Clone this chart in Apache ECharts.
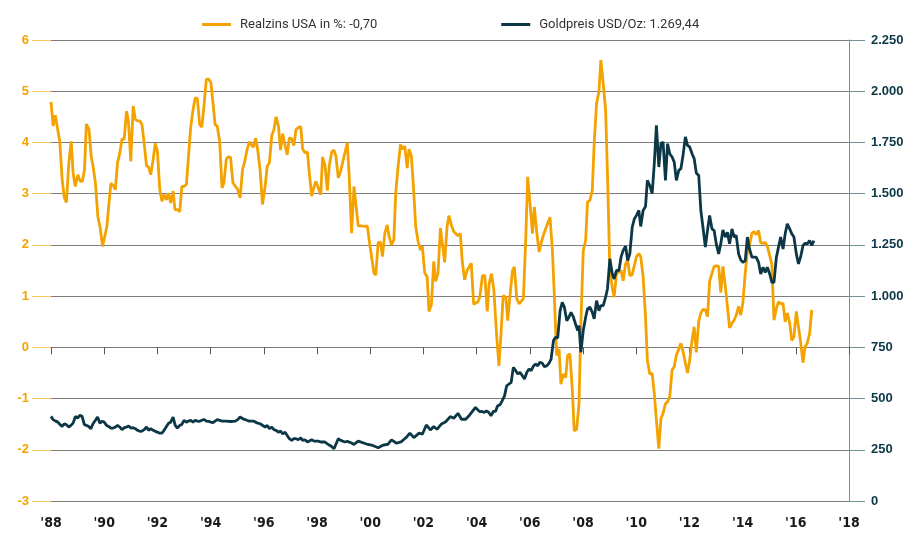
<!DOCTYPE html>
<html>
<head>
<meta charset="utf-8">
<script src="https://cdn.jsdelivr.net/npm/echarts@6/dist/echarts.min.js"></script>
<style>
html,body{margin:0;padding:0;background:#fff;}
#chart{width:909px;height:533px;}
</style>
</head>
<body>
<div id="chart"></div>
<script>
// Legend / series names
var seriesNames = ['Realzins USA in %: -0,70', 'Goldpreis USD/Oz: 1.269,44'];

// X-axis tick labels (every 2 years)
var xTickYears = [1988,1990,1992,1994,1996,1998,2000,2002,2004,2006,2008,2010,2012,2014,2016,2018];

// Left axis ticks (real interest, %)
var leftTicks = [-3,-2,-1,0,1,2,3,4,5,6];
// Right axis ticks (gold price USD/oz)
var rightTicks = [0,250,500,750,1000,1250,1500,1750,2000,2250];

// Realzins USA in % : [decimal year, value]
var realzins = [
[1988.00,4.79],[1988.08,4.32],[1988.16,4.53],[1988.23,4.32],[1988.33,4.02],[1988.42,3.27],[1988.50,2.92],[1988.58,2.83],[1988.67,3.6],[1988.76,4.02],[1988.83,3.41],[1988.91,3.14],
[1989.01,3.37],[1989.10,3.24],[1989.18,3.24],[1989.26,3.47],[1989.33,4.36],[1989.43,4.25],[1989.51,3.73],[1989.58,3.54],[1989.67,3.21],[1989.76,2.56],[1989.85,2.33],[1989.94,1.97],
[1990.01,1.98],[1990.10,2.36],[1990.17,2.75],[1990.25,3.2],[1990.34,3.16],[1990.42,3.08],[1990.50,3.6],[1990.59,3.8],[1990.67,4.07],[1990.75,4.06],[1990.84,4.61],[1990.91,4.42],
[1991.00,3.63],[1991.09,4.71],[1991.17,4.45],[1991.25,4.42],[1991.34,4.42],[1991.42,4.35],[1991.50,3.99],[1991.59,3.55],[1991.67,3.52],[1991.75,3.37],[1991.84,3.67],[1991.92,3.98],
[1992.00,3.83],[1992.09,3.08],[1992.17,2.85],[1992.25,2.98],[1992.34,2.88],[1992.41,3.01],[1992.50,2.82],[1992.59,3.05],[1992.66,2.69],[1992.75,2.69],[1992.84,2.65],[1992.92,3.14],
[1993.00,3.14],[1993.09,3.18],[1993.17,3.73],[1993.25,4.29],[1993.34,4.64],[1993.42,4.87],[1993.50,4.86],[1993.59,4.35],[1993.67,4.3],[1993.75,4.71],[1993.84,5.23],[1993.92,5.24],
[1994.01,5.17],[1994.09,4.77],[1994.17,4.35],[1994.25,4.32],[1994.34,4.02],[1994.43,3.11],[1994.50,3.21],[1994.59,3.67],[1994.66,3.72],[1994.75,3.71],[1994.84,3.21],[1994.94,3.14],
[1995.02,3.08],[1995.11,2.92],[1995.20,3.47],[1995.27,3.6],[1995.36,3.83],[1995.45,4.01],[1995.52,3.96],[1995.61,3.91],[1995.69,4.08],[1995.77,3.86],[1995.86,3.47],[1995.95,2.79],
[1996.05,3.14],[1996.13,3.54],[1996.21,3.6],[1996.30,4.14],[1996.38,4.25],[1996.46,4.5],[1996.55,4.32],[1996.63,3.85],[1996.71,4.17],[1996.80,3.94],[1996.88,3.76],[1996.96,4.09],
[1997.05,4.07],[1997.13,3.94],[1997.21,4.25],[1997.30,4.29],[1997.39,4.31],[1997.46,3.87],[1997.55,3.8],[1997.64,3.81],[1997.71,3.41],[1997.80,2.95],[1997.89,3.14],[1997.96,3.24],
[1998.05,3.11],[1998.14,2.98],[1998.21,3.72],[1998.30,3.55],[1998.39,3.06],[1998.46,3.54],[1998.55,3.81],[1998.64,3.85],[1998.71,3.73],[1998.80,3.31],[1998.89,3.44],[1998.96,3.6],
[1999.05,3.8],[1999.14,3.99],[1999.21,3.34],[1999.30,2.23],[1999.39,3.14],[1999.46,3.11],[1999.55,2.37],[1999.64,2.37],[1999.71,2.36],[1999.80,2.36],[1999.89,2.37],[1999.96,2.1],
[2000.05,1.77],[2000.14,1.45],[2000.21,1.41],[2000.30,2.05],[2000.39,2.05],[2000.46,1.77],[2000.55,2.23],[2000.64,2.39],[2000.71,2.17],[2000.80,2.0],[2000.89,2.1],[2000.96,3.01],
[2001.05,3.54],[2001.14,3.96],[2001.21,3.87],[2001.30,3.93],[2001.39,3.5],[2001.46,3.87],[2001.55,3.73],[2001.64,3.01],[2001.71,2.36],[2001.80,2.07],[2001.89,1.9],[2001.96,1.97],
[2002.05,1.45],[2002.14,1.38],[2002.21,0.7],[2002.30,0.83],[2002.39,1.68],[2002.46,1.29],[2002.55,1.45],[2002.64,2.33],[2002.71,2.3],[2002.80,1.66],[2002.89,2.36],[2002.96,2.57],
[2003.05,2.39],[2003.14,2.26],[2003.21,2.28],[2003.30,2.18],[2003.39,2.22],[2003.46,1.68],[2003.55,1.32],[2003.64,1.5],[2003.71,1.48],[2003.80,1.64],[2003.89,0.84],[2003.96,0.84],
[2004.05,0.89],[2004.12,0.98],[2004.22,1.4],[2004.31,1.4],[2004.40,0.7],[2004.47,1.24],[2004.56,1.44],[2004.65,1.11],[2004.75,0.26],[2004.84,-0.36],[2004.91,0.2],
[2005.00,1.01],[2005.10,0.98],[2005.17,0.52],[2005.26,1.04],[2005.35,1.5],[2005.42,1.57],[2005.51,0.95],[2005.60,0.85],[2005.67,0.88],[2005.76,0.95],[2005.85,2.15],[2005.92,3.33],
[2006.01,2.8],[2006.10,2.22],[2006.17,2.74],[2006.26,2.25],[2006.35,1.86],[2006.42,2.02],[2006.51,2.19],[2006.60,2.32],[2006.67,2.35],[2006.76,2.54],[2006.85,1.89],[2006.92,1.04],
[2007.01,-0.16],[2007.10,-0.03],[2007.17,-0.72],[2007.26,-0.52],[2007.35,-0.59],[2007.42,-0.16],[2007.51,-0.13],[2007.60,-0.85],[2007.67,-1.63],[2007.76,-1.6],[2007.85,-1.11],[2007.92,0.46],
[2008.01,1.89],[2008.10,2.09],[2008.17,2.84],[2008.26,2.87],[2008.35,3.07],[2008.42,3.98],[2008.51,4.76],[2008.60,4.99],[2008.67,5.61],[2008.76,5.15],[2008.85,4.63],[2008.92,3.39],
[2009.01,1.5],[2009.10,1.17],[2009.17,0.98],[2009.26,1.44],[2009.35,1.47],[2009.43,1.5],[2009.51,1.3],[2009.60,1.63],[2009.68,1.7],[2009.76,1.4],[2009.85,1.42],[2009.92,1.42],
[2010.01,1.77],[2010.10,1.83],[2010.17,1.77],[2010.26,1.38],[2010.35,0.6],[2010.42,-0.25],[2010.51,-0.52],[2010.60,-0.51],[2010.68,-0.9],[2010.76,-1.42],[2010.85,-1.98],[2010.93,-1.39],
[2011.01,-1.29],[2011.10,-1.1],[2011.18,-1.06],[2011.26,-0.97],[2011.35,-0.44],[2011.43,-0.38],[2011.51,-0.15],[2011.60,-0.04],[2011.68,0.08],[2011.76,-0.08],[2011.85,-0.31],[2011.93,-0.5],
[2012.01,-0.25],[2012.10,0.14],[2012.18,0.4],[2012.26,-0.1],[2012.35,0.5],[2012.43,0.67],[2012.51,0.74],[2012.60,0.73],[2012.68,0.6],[2012.76,1.29],[2012.85,1.45],[2012.93,1.58],
[2013.01,1.59],[2013.10,1.58],[2013.18,1.07],[2013.26,1.58],[2013.35,1.19],[2013.43,0.8],[2013.51,0.38],[2013.60,0.47],[2013.68,0.53],[2013.76,0.63],[2013.85,0.8],[2013.93,0.63],
[2014.01,0.87],[2014.10,1.45],[2014.18,1.87],[2014.26,2.0],[2014.35,2.23],[2014.43,2.26],[2014.51,2.2],[2014.60,2.28],[2014.68,2.04],[2014.77,2.03],[2014.85,2.05],[2014.93,1.97],
[2015.02,1.79],[2015.10,1.61],[2015.18,0.53],[2015.27,0.76],[2015.35,0.89],[2015.43,0.85],[2015.52,0.86],[2015.60,0.5],[2015.68,0.67],[2015.77,0.47],[2015.85,0.13],[2015.93,0.21],
[2016.02,0.7],[2016.10,0.4],[2016.18,0.11],[2016.27,-0.3],[2016.35,0.01],[2016.43,0.08],[2016.52,0.27],[2016.60,0.73]
];

// Goldpreis USD/Oz : [decimal year, value]
var goldpreis = [
[1988.00,413],[1988.08,397],[1988.17,390],[1988.26,385],[1988.33,374],[1988.42,364],[1988.50,377],[1988.58,372],[1988.67,361],[1988.75,369],[1988.83,380],[1988.92,413],
[1989.00,405],[1989.08,418],[1989.17,413],[1989.25,374],[1989.33,369],[1989.42,364],[1989.50,353],[1989.58,377],[1989.67,394],[1989.75,410],[1989.84,380],[1989.92,389],
[1990.00,385],[1990.09,369],[1990.17,364],[1990.25,356],[1990.34,356],[1990.42,361],[1990.50,369],[1990.59,361],[1990.67,348],[1990.75,358],[1990.84,361],[1990.92,366],
[1991.00,356],[1991.09,358],[1991.17,353],[1991.25,345],[1991.34,340],[1991.42,341],[1991.50,348],[1991.59,361],[1991.67,345],[1991.75,353],[1991.84,345],[1991.92,340],
[1992.00,336],[1992.09,331],[1992.17,331],[1992.25,345],[1992.34,364],[1992.42,380],[1992.50,385],[1992.59,410],[1992.67,369],[1992.75,356],[1992.84,369],[1992.92,374],
[1993.00,394],[1993.09,385],[1993.17,390],[1993.25,394],[1993.34,385],[1993.42,394],[1993.50,390],[1993.59,389],[1993.67,394],[1993.75,398],[1993.84,390],[1993.92,389],
[1994.01,385],[1994.09,382],[1994.17,390],[1994.25,397],[1994.34,394],[1994.43,390],[1994.59,390],[1994.75,388],[1994.93,390],
[1995.02,397],[1995.11,410],[1995.20,402],[1995.27,397],[1995.36,394],[1995.45,390],[1995.52,382],[1995.61,390],[1995.69,385],[1995.77,380],[1995.86,377],[1995.93,377],
[1996.05,361],[1996.13,369],[1996.21,353],[1996.30,361],[1996.38,348],[1996.46,345],[1996.55,336],[1996.63,341],[1996.71,328],[1996.80,336],[1996.88,320],[1996.96,304],
[1997.05,296],[1997.13,304],[1997.21,304],[1997.30,299],[1997.39,309],[1997.46,296],[1997.55,299],[1997.64,288],[1997.71,279],[1997.80,299],[1997.89,292],[1997.96,296],
[1998.05,292],[1998.14,288],[1998.21,288],[1998.30,288],[1998.39,279],[1998.46,274],[1998.55,266],[1998.64,255],[1998.71,260],[1998.80,304],[1998.89,296],[1998.96,292],
[1999.05,288],[1999.14,291],[1999.21,296],[1999.30,283],[1999.39,276],[1999.46,279],[1999.55,292],[1999.61,285],[1999.86,278],
[2000.05,273],[2000.30,260],[2000.49,273],[2000.67,277],[2000.80,298],[2000.99,282],
[2001.18,290],[2001.36,311],[2001.49,331],[2001.64,309],[2001.84,331],[2001.96,326],
[2002.11,371],[2002.26,347],[2002.39,363],[2002.51,350],[2002.68,376],[2002.84,387],
[2003.01,412],[2003.14,404],[2003.30,428],[2003.43,399],[2003.59,399],[2003.74,420],[2003.96,457],
[2004.11,436],[2004.21,437],[2004.29,432],[2004.37,440],[2004.46,432],[2004.54,416],[2004.63,437],[2004.71,437],[2004.79,465],[2004.88,469],[2004.96,489],
[2005.05,513],[2005.13,562],[2005.22,571],[2005.30,579],[2005.38,652],[2005.47,636],[2005.55,620],[2005.63,628],[2005.72,611],[2005.80,595],[2005.89,628],[2005.97,644],
[2006.05,636],[2006.14,660],[2006.22,668],[2006.30,660],[2006.38,677],[2006.47,672],[2006.55,655],[2006.64,660],[2006.72,672],[2006.80,693],[2006.89,783],[2006.97,799],
[2007.05,796],[2007.14,929],[2007.22,970],[2007.30,946],[2007.39,880],[2007.47,897],[2007.55,921],[2007.64,897],[2007.72,864],[2007.80,832],[2007.85,856],[2007.92,726],
[2008.01,832],[2008.10,897],[2008.17,938],[2008.26,946],[2008.35,921],[2008.42,889],[2008.51,978],[2008.60,929],[2008.67,954],[2008.76,954],[2008.85,995],[2008.92,1035],
[2009.01,1182],[2009.10,1109],[2009.17,1084],[2009.26,1125],[2009.35,1125],[2009.43,1190],[2009.51,1223],[2009.60,1243],[2009.68,1174],[2009.76,1206],[2009.85,1336],[2009.93,1377],
[2010.01,1394],[2010.10,1418],[2010.17,1340],[2010.26,1418],[2010.35,1437],[2010.42,1565],[2010.51,1540],[2010.60,1500],[2010.68,1646],[2010.76,1834],[2010.85,1630],[2010.93,1744],
[2011.01,1752],[2011.10,1565],[2011.18,1744],[2011.26,1695],[2011.35,1679],[2011.43,1654],[2011.51,1565],[2011.60,1614],[2011.68,1622],[2011.76,1687],[2011.85,1777],[2011.93,1736],
[2012.01,1728],[2012.10,1695],[2012.18,1671],[2012.26,1601],[2012.35,1589],[2012.43,1418],[2012.51,1336],[2012.60,1239],[2012.68,1320],[2012.76,1394],[2012.85,1328],[2012.93,1320],
[2013.01,1255],[2013.10,1206],[2013.18,1255],[2013.26,1323],[2013.35,1288],[2013.43,1312],[2013.51,1255],[2013.60,1328],[2013.68,1288],[2013.76,1296],[2013.85,1206],[2013.93,1177],
[2014.01,1165],[2014.10,1173],[2014.18,1288],[2014.26,1230],[2014.35,1190],[2014.43,1190],[2014.51,1190],[2014.60,1165],[2014.68,1108],[2014.77,1141],[2014.85,1116],[2014.93,1141],
[2015.02,1108],[2015.10,1067],[2015.18,1067],[2015.27,1190],[2015.35,1239],[2015.43,1288],[2015.52,1230],[2015.60,1304],[2015.68,1353],[2015.77,1328],[2015.85,1304],[2015.93,1288],
[2016.02,1206],[2016.10,1157],[2016.18,1190],[2016.27,1247],[2016.35,1258],[2016.43,1255],[2016.52,1271],[2016.60,1247],[2016.68,1271]
];

var ORANGE = '#F4A200';
var TEAL = '#0C3746';

function thousands(v){ return String(v).replace(/\B(?=(\d{3})+(?!\d))/g, '.'); }

var chart = echarts.init(document.getElementById('chart'), null, {renderer:'canvas'});
chart.setOption({
  animation: false,
  backgroundColor: '#ffffff',
  textStyle: { fontFamily: 'Roboto, "Liberation Sans", sans-serif' },
  legend: {
    top: 13,
    left: 197,
    itemWidth: 29,
    itemHeight: 3,
    itemGap: 124,
    icon: 'rect',
    data: seriesNames,
    textStyle: { color: '#333', fontSize: 13, fontFamily: 'Roboto, sans-serif', padding: [0,0,0,4] }
  },
  grid: { left: 51, right: 60, top: 40, bottom: 32, containLabel: false },
  xAxis: {
    type: 'value',
    min: xTickYears[0],
    max: xTickYears[xTickYears.length-1],
    interval: 2,
    axisLine: { show: true, lineStyle: { color: '#7a7a7a', width: 1 } },
    axisTick: { show: true, length: 7, lineStyle: { color: '#555' } },
    splitLine: { show: false },
    axisLabel: {
      margin: 15,
      color: '#1a1a1a',
      fontSize: 14,
      fontWeight: 'bold',
      fontFamily: '"Liberation Sans Narrow", "DejaVu Sans Condensed", sans-serif',
      formatter: function(v){ return "'" + String(v).slice(2); }
    }
  },
  yAxis: [
    {
      type: 'value',
      min: leftTicks[0],
      max: leftTicks[leftTicks.length-1],
      interval: 1,
      position: 'left',
      axisLine: { show: false },
      axisTick: { show: true, length: 19, lineStyle: { color: '#F7C760', width: 1 } },
      splitLine: { show: true, lineStyle: { color: '#7d7d7d', width: 1 } },
      axisLabel: { margin: 22, color: ORANGE, fontSize: 13, fontWeight: 'bold', fontFamily: '"Liberation Sans", Arial, sans-serif' }
    },
    {
      type: 'value',
      min: rightTicks[0],
      max: rightTicks[rightTicks.length-1],
      interval: 250,
      position: 'right',
      axisLine: { show: true, lineStyle: { color: '#6E9296', width: 1 } },
      axisTick: { show: true, length: 16, lineStyle: { color: '#6E9296', width: 1 } },
      splitLine: { show: false },
      axisLabel: { margin: 22, color: TEAL, fontSize: 13, fontWeight: 'bold', fontFamily: '"Liberation Sans", Arial, sans-serif', formatter: thousands }
    }
  ],
  series: [
    {
      name: seriesNames[0],
      type: 'line',
      yAxisIndex: 0,
      data: realzins,
      showSymbol: false,
      symbol: 'none',
      lineStyle: { color: ORANGE, width: 2.8 },
      itemStyle: { color: ORANGE },
      z: 2
    },
    {
      name: seriesNames[1],
      type: 'line',
      yAxisIndex: 1,
      data: goldpreis,
      showSymbol: false,
      symbol: 'none',
      lineStyle: { color: TEAL, width: 2.8 },
      itemStyle: { color: TEAL },
      z: 3
    }
  ]
});
</script>
</body>
</html>
